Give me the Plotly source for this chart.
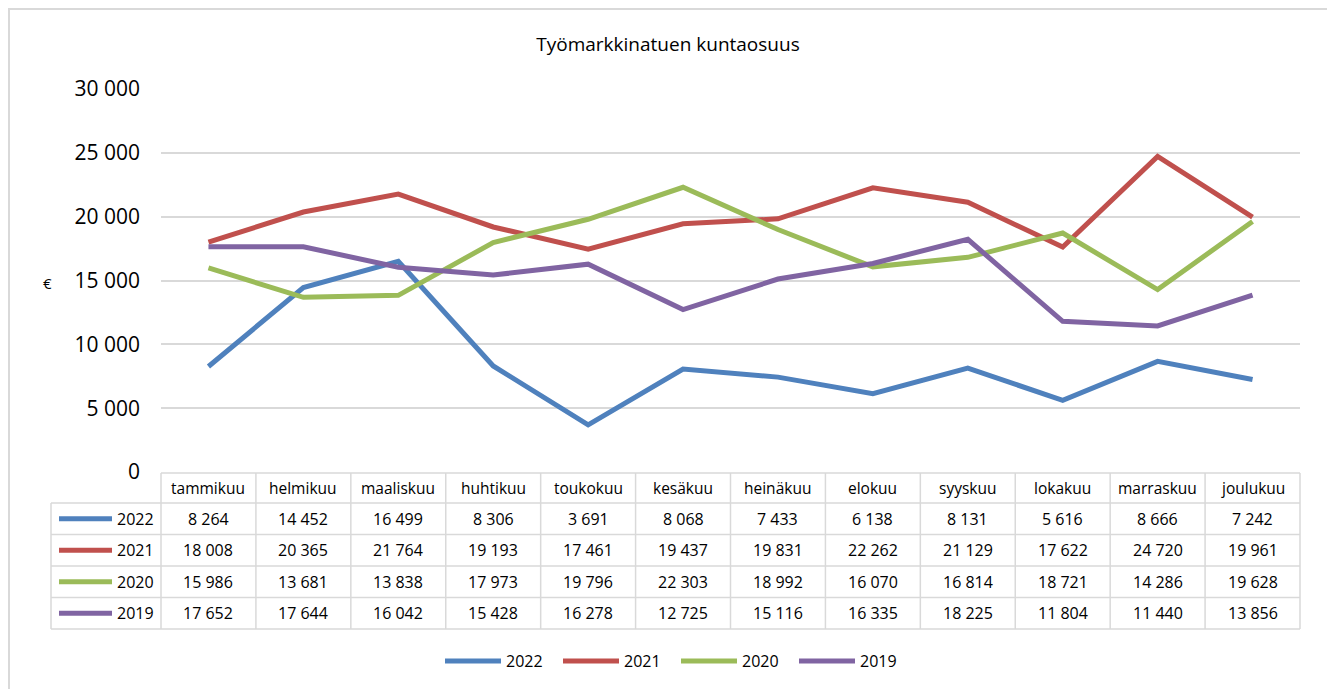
import plotly.graph_objects as go

title = "Työmarkkinatuen kuntaosuus"
months = ["tammikuu", "helmikuu", "maaliskuu", "huhtikuu", "toukokuu", "kesäkuu",
          "heinäkuu", "elokuu", "syyskuu", "lokakuu", "marraskuu", "joulukuu"]
series_names = ["2022", "2021", "2020", "2019"]
v2022 = [8264, 14452, 16499, 8306, 3691, 8068, 7433, 6138, 8131, 5616, 8666, 7242]
v2021 = [18008, 20365, 21764, 19193, 17461, 19437, 19831, 22262, 21129, 17622, 24720, 19961]
v2020 = [15986, 13681, 13838, 17973, 19796, 22303, 18992, 16070, 16814, 18721, 14286, 19628]
v2019 = [17652, 17644, 16042, 15428, 16278, 12725, 15116, 16335, 18225, 11804, 11440, 13856]
y_ticks = [0, 5000, 10000, 15000, 20000, 25000, 30000]
y_unit = "€"

series_values = [v2022, v2021, v2020, v2019]
colors = ["#4f81bd", "#c0504d", "#9bbb59", "#8064a2"]

FONT = "Open Sans"
OFF = 8  # page body margin
W_FIG, H_FIG = 1335 - OFF, 689 - OFF
# reference page pixel coordinates
L, R, T, B = 161, 1300, 89, 472
PW, PH = R - L, B - T


def px(xp):
    return (xp - L) / PW


def py(yp):
    return (B - yp) / PH


fig = go.Figure()
for name, vals, col in zip(series_names, series_values, colors):
    fig.add_trace(go.Scatter(x=months, y=vals, name=name, mode="lines",
                             line=dict(color=col, width=5),
                             showlegend=False, hoverinfo="x+y+name"))

shapes = []
annotations = []
grid_col = "#d9d9d9"

# outer chart border
shapes.append(dict(type="rect", xref="paper", yref="paper",
                   x0=px(OFF + 1), x1=px(1329), y0=py(OFF + 1), y1=py(720),
                   line=dict(color="#d9d9d9", width=2), layer="below"))

# table geometry
n = len(months)
col_w = PW / n
row_edges = [473, 503, 534.5, 566, 597.5, 629]
table_left = 51

shapes.append(dict(type="line", xref="paper", yref="paper", x0=px(L), x1=px(R),
                   y0=py(row_edges[0]), y1=py(row_edges[0]),
                   line=dict(color=grid_col, width=1.5)))
for ye in row_edges[1:]:
    shapes.append(dict(type="line", xref="paper", yref="paper", x0=px(table_left), x1=px(R),
                       y0=py(ye), y1=py(ye), line=dict(color=grid_col, width=1.5)))
for k in range(n + 1):
    xe = L + k * col_w
    shapes.append(dict(type="line", xref="paper", yref="paper", x0=px(xe), x1=px(xe),
                       y0=py(row_edges[0]), y1=py(row_edges[-1]),
                       line=dict(color=grid_col, width=1.5)))
shapes.append(dict(type="line", xref="paper", yref="paper", x0=px(table_left), x1=px(table_left),
                   y0=py(row_edges[1]), y1=py(row_edges[-1]),
                   line=dict(color=grid_col, width=1.5)))

for i, m in enumerate(months):
    annotations.append(dict(xref="paper", yref="paper", x=px(L + (i + 0.5) * col_w),
                            y=py((row_edges[0] + row_edges[1]) / 2), text=m, showarrow=False,
                            font=dict(family=FONT, size=15.5, color="#000"),
                            xanchor="center", yanchor="middle"))


def fmt(v):
    return f"{v:,}".replace(",", " ")


for r, (name, vals, col) in enumerate(zip(series_names, series_values, colors)):
    yc = (row_edges[r + 1] + row_edges[r + 2]) / 2
    shapes.append(dict(type="line", xref="paper", yref="paper", x0=px(59), x1=px(112),
                       y0=py(yc), y1=py(yc), line=dict(color=col, width=5)))
    annotations.append(dict(xref="paper", yref="paper", x=px(115), y=py(yc), text=name,
                            showarrow=False, font=dict(family=FONT, size=16, color="#000"),
                            xanchor="left", yanchor="middle"))
    for i, v in enumerate(vals):
        annotations.append(dict(xref="paper", yref="paper", x=px(L + (i + 0.5) * col_w),
                                y=py(yc), text=fmt(v), showarrow=False,
                                font=dict(family=FONT, size=16, color="#000"),
                                xanchor="center", yanchor="middle"))

leg_y = 661
leg_x = [445, 563, 681, 799]
for name, col, lx in zip(series_names, colors, leg_x):
    shapes.append(dict(type="line", xref="paper", yref="paper", x0=px(lx), x1=px(lx + 56),
                       y0=py(leg_y), y1=py(leg_y), line=dict(color=col, width=5)))
    annotations.append(dict(xref="paper", yref="paper", x=px(lx + 59), y=py(leg_y), text=name,
                            showarrow=False, font=dict(family=FONT, size=16, color="#000"),
                            xanchor="left", yanchor="middle"))

annotations.append(dict(xref="paper", yref="paper", x=px(47), y=py(283), text=y_unit,
                        showarrow=False, font=dict(family=FONT, size=15, color="#000"),
                        xanchor="center", yanchor="middle"))

fig.update_layout(
    width=W_FIG, height=H_FIG,
    margin=dict(l=L - OFF, r=W_FIG - (R - OFF), t=T - OFF, b=H_FIG - (B - OFF), pad=0),
    paper_bgcolor="white", plot_bgcolor="white",
    separators=", ",
    title=dict(text=title, x=(668 - OFF) / W_FIG, xref="container", xanchor="center",
               y=1 - (44 - OFF) / H_FIG, yref="container", yanchor="middle",
               font=dict(family=FONT, size=19, color="#000")),
    xaxis=dict(type="category", categoryorder="array", categoryarray=months,
               range=[-0.5, n - 0.5], showticklabels=False, showgrid=False,
               zeroline=False, showline=False, fixedrange=True),
    yaxis=dict(range=[0, 30000], tickvals=y_ticks, tickformat=",d",
               showgrid=True, gridcolor=grid_col, gridwidth=1.5, zeroline=False,
               showline=False, ticks="", ticklabelstandoff=20,
               tickfont=dict(family=FONT, size=21, color="#000"), fixedrange=True),
    shapes=shapes, annotations=annotations,
    font=dict(family=FONT),
)

fig.write_html("out.html")
